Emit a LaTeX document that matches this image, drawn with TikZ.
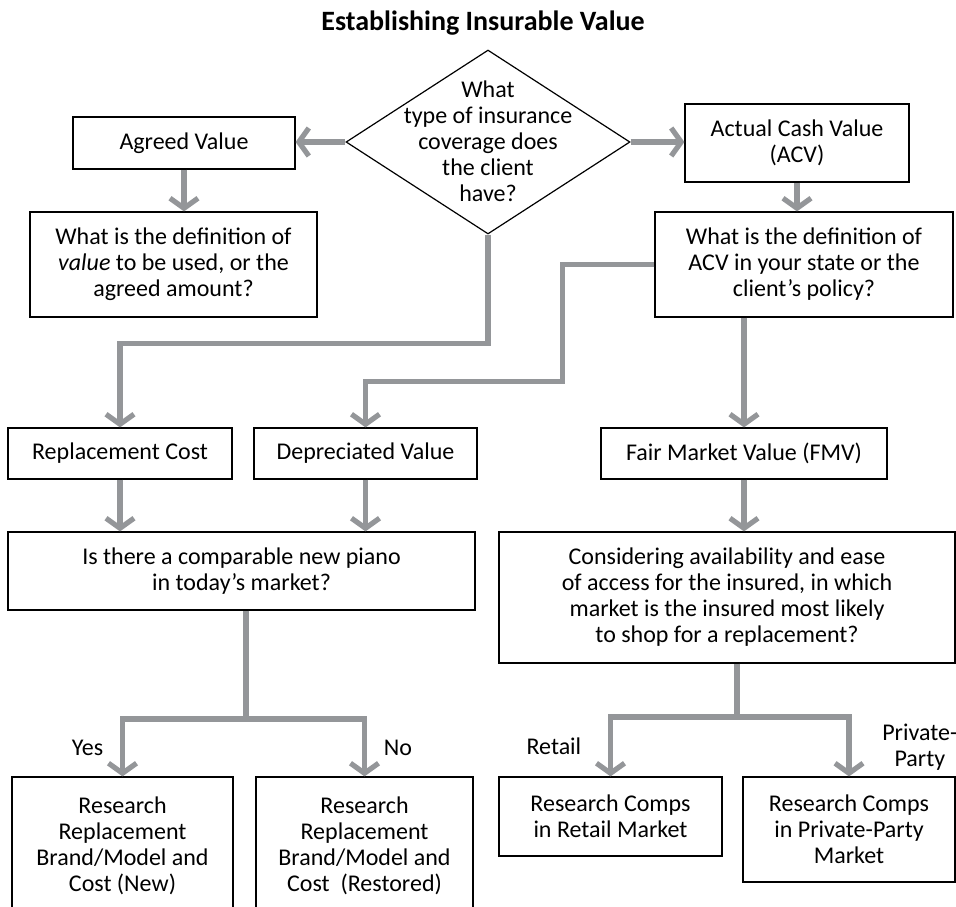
\documentclass[tikz,border=0pt]{standalone}
\usepackage{fontspec}
\setmainfont{Carlito}
\usepackage{tikz}
\usetikzlibrary{positioning,shapes.geometric,arrows.meta}
\definecolor{flowgray}{RGB}{148,150,153}

\begin{document}
\begin{tikzpicture}[x=0.5pt,y=-0.5pt,font=\fontsize{12}{13}\selectfont,
  box/.style={draw,line width=0.6pt,align=center,inner sep=0pt},
  decision/.style={draw,diamond,line width=0.6pt,inner sep=0pt,minimum width=142pt,minimum height=92pt},
  link/.style={draw=flowgray,line width=2.6pt},
  flow/.style={link,-{Straight Barb[length=5pt,width=14pt]}}]
   \useasboundingbox (0,0) rectangle (956,906);

   \node[font=\bfseries\fontsize{14}{16}\selectfont] (title) at (483,23) {Establishing Insurable Value};

   \node[decision] (q) at (488,142) {};
   \node[align=center] (qtext) at (488,141) {What\\type of insurance\\coverage does\\the client\\have?};

   \node[box,minimum width=111pt,minimum height=26pt] (agreed) at (184,143) {Agreed Value};
   \node[box,minimum width=112pt,minimum height=39pt] (acv) at (797,143) {Actual Cash Value\\(ACV)};
   \node[box,minimum width=143.5pt,minimum height=52.5pt] (agdef) at (173.5,264.5) {What is the definition of\\\textit{value} to be used, or the\\agreed amount?};
   \node[box,minimum width=149pt,minimum height=52.5pt] (acvdef) at (804,264.5) {What is the definition of\\ACV in your state or the\\client’s policy?};

   \node[box,minimum width=112pt,minimum height=25.5pt] (repl) at (120,453.5) {Replacement Cost};
   \node[box,minimum width=111.5pt,minimum height=25.5pt] (depr) at (365.5,453.5) {Depreciated Value};
   \node[box,minimum width=143pt,minimum height=25.5pt] (fmv) at (744,453.5) {Fair Market Value (FMV)};

   \node[box,minimum width=233.5pt,minimum height=39pt] (piano) at (241.5,571) {Is there a comparable new piano\\in today’s market?};
   \node[box,minimum width=228pt,minimum height=65.5pt] (consider) at (727,597.5) {Considering availability and ease\\of access for the insured, in which\\market is the insured most likely\\to shop for a replacement?};

   \node[box,minimum width=110.5pt,minimum height=69pt] (yes) at (122.5,846) {Research\\Replacement\\Brand/Model and\\Cost (New)};
   \node[box,minimum width=108.5pt,minimum height=69pt] (no) at (364.5,846) {Research\\Replacement\\Brand/Model and\\Cost\ \ (Restored)};
   \node[box,minimum width=111.5pt,minimum height=39.5pt] (retail) at (610.5,816.5) {Research Comps\\in Retail Market};
   \node[box,minimum width=106pt,minimum height=52.5pt] (private) at (849,829.5) {Research Comps\\in Private-Party\\Market};

   \coordinate (split) at (246,719);
   \coordinate (fork) at (737,717);

   \draw[flow] (q.west) -- (q.west -| agreed.east);
   \draw[flow] (q.east) -- (q.east -| acv.west);
   \draw[flow] (agreed.south) -- (agreed.south |- agdef.north);
   \draw[flow] (acv.south) -- (acv.south |- acvdef.north);
   \draw[flow] (q.south) -- ++(0,109) -| (repl.north);
   \draw[flow] (acvdef.west) -- ++(-92,0) -- ++(0,117) -| (depr.north);
   \draw[flow] (fmv.north |- acvdef.south) -- (fmv.north);
   \draw[flow] (repl.south) -- (repl.south |- piano.north);
   \draw[flow] (depr.south) -- (depr.south |- piano.north);
   \draw[flow] (fmv.south) -- (fmv.south |- consider.north);
   \draw[link] (piano.south -| split) -- (split);
   \draw[flow] (split) -| node[pos=0.75,left=5pt] {Yes} (yes.north);
   \draw[flow] (split) -| node[pos=0.75,right=5pt] {No} (no.north);
   \draw[link] (consider.south -| fork) -- (fork);
   \draw[flow] (fork) -| node[pos=0.75,left=10pt] {Retail} (retail.north);
   \draw[flow] (fork) -| node[pos=0.75,right=12pt,align=center] {Private-\\Party} (private.north);
\end{tikzpicture}
\end{document}
